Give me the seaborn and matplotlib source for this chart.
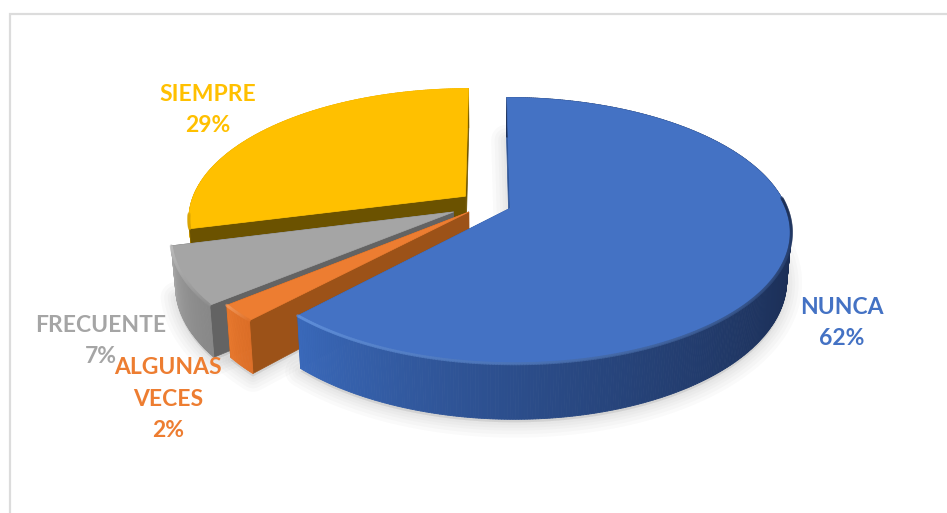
import numpy as np
import matplotlib
matplotlib.use("Agg")
import matplotlib.pyplot as plt
from matplotlib.collections import PolyCollection, LineCollection
from matplotlib.colors import to_rgb
import seaborn as sns

categories = ["NUNCA", "ALGUNAS\nVECES", "FRECUENTE", "SIEMPRE"]
percentages = [62, 2, 7, 29]
top_colors = ["#4472C4", "#ED7D31", "#A5A5A5", "#FFC000"]
cut_colors = ["#2F5597", "#9C5218", "#636363", "#6B5200"]
rim_dark = ["#1A2C52", "#DD6F28", "#878787", "#D9A300"]
rim_light = ["#3A69BA", "#E97A2F", "#A6A6A6", "#F0B400"]
rim_range = [(90, 223), (223, 231), (228, 256), (256, 360)]
edge_light = ["#6393DE", "#F5A066", "#BDBDBD", "#FFD24D"]
explode = [0.09, 0.09, 0.135, 0.10]
label_xy = [(842, 323), (168, 399), (101, 341), (208, 110)]

sns.set_theme(style="white")
plt.rcParams["font.family"] = ["Lato", "DejaVu Sans"]
palette = sns.color_palette(top_colors)

# Perspective disc: centre, radii, foreshortening and extrusion.
CX, CY, RX, RY, PERSP = 487.0, 204.0, 275.0, 128.0, 1 / 6
DEPTH, SHRINK = 46.0, 0.985


def project(u, v):
    w = 1 + PERSP * v
    return CX + RX * u / w, CY - RY * v / w, w


def lower(x, y, w):
    return CX + (x - CX) * SHRINK, y + DEPTH / w


def blend(a, b, t):
    a, b = np.array(to_rgb(a)), np.array(to_rgb(b))
    return tuple(a + (b - a) * float(t))


fig = plt.figure(figsize=(9.47, 5.13), dpi=100)
ax = fig.add_axes([0, 0, 1, 1])
ax.set_xlim(0, 947)
ax.set_ylim(513, 0)
ax.axis("off")

# Chart frame: only the top and left sides are in view.
ax.plot([10, 10, 947], [513, 14, 14], color="#DCDCDC", lw=1.6, solid_joinstyle="miter")

edges = np.concatenate([[0], np.cumsum(percentages)]) / sum(percentages) * 360
slices = []
for i, (start, stop) in enumerate(zip(edges[:-1], edges[1:])):
    mid = np.radians((start + stop) / 2)
    du, dv = explode[i] * np.sin(mid), explode[i] * np.cos(mid)
    theta = np.linspace(start, stop, int((stop - start) * 2) + 2)
    rad = np.radians(theta)
    x, y, w = project(du + np.sin(rad), dv + np.cos(rad))
    ax0, ay0, aw0 = project(du, dv)
    bx, by = lower(x, y, w)
    abx, aby = lower(ax0, ay0, aw0)
    slices.append(dict(theta=theta, x=x, y=y, bx=bx, by=by,
                       apex=(ax0, ay0), base=(abx, aby)))

# Soft ground shadow built from stacked translucent outlines.
for s in slices[:3]:
    px = np.r_[s["base"][0], s["bx"]]
    py = np.r_[s["base"][1], s["by"]] + 3
    for lw in (22, 17, 12, 8, 4):
        ax.fill(px, py, facecolor="#777777", edgecolor="#777777", alpha=0.035,
                lw=lw, joinstyle="round", zorder=1)

# Back-to-front order: last slice first, first slice on top.
for i in reversed(range(len(slices))):
    s = slices[i]
    z = 3 + (len(slices) - i) * 4
    x, y, bx, by, theta = s["x"], s["y"], s["bx"], s["by"], s["theta"]
    (ax0, ay0), (abx, aby) = s["apex"], s["base"]

    # Radial cut faces.
    for j in (0, -1):
        ax.fill([ax0, x[j], bx[j], abx], [ay0, y[j], by[j], aby],
                color=cut_colors[i], lw=0.5, zorder=z)

    # Outer rim, shaded along the sweep; the rearmost slice keeps its cut face in front.
    t0, t1 = rim_range[i]
    shade = np.clip((theta - t0) / (t1 - t0), 0, 1) ** 1.5
    quads, face, strokes, stroke_col = [], [], [], []
    for k in range(len(theta) - 1):
        quads.append([(x[k], y[k]), (x[k + 1], y[k + 1]), (bx[k + 1], by[k + 1]), (bx[k], by[k])])
        face.append(blend(rim_dark[i], rim_light[i], shade[k]))
        # The bevel only catches light where the rim faces the viewer.
        if 85 <= theta[k] <= 262:
            strokes.append([(x[k], y[k]), (x[k + 1], y[k + 1])])
            stroke_col.append(blend(rim_dark[i], edge_light[i], shade[k] ** 0.6))
    rim_z = z - 1 if i == len(slices) - 1 else z + 1
    ax.add_collection(PolyCollection(quads, facecolors=face, edgecolors=face, linewidths=0.6, zorder=rim_z))

    # Top surface with a bevel stroke around the rim.
    ax.fill(np.r_[ax0, x], np.r_[ay0, y], color=palette[i], lw=0.5, zorder=z + 2)
    ax.add_collection(LineCollection(strokes, colors=stroke_col, linewidths=2.2,
                                     alpha=0.6, capstyle="round", zorder=z + 2))

for name, pct, color, (tx, ty) in zip(categories, percentages, palette, label_xy):
    ax.text(tx, ty, f"{name}\n{pct}%", color=color, fontsize=16.5, fontweight="bold",
            ha="center", va="center", linespacing=1.62, zorder=30)

fig.savefig("out.png", dpi=100, facecolor="white")
